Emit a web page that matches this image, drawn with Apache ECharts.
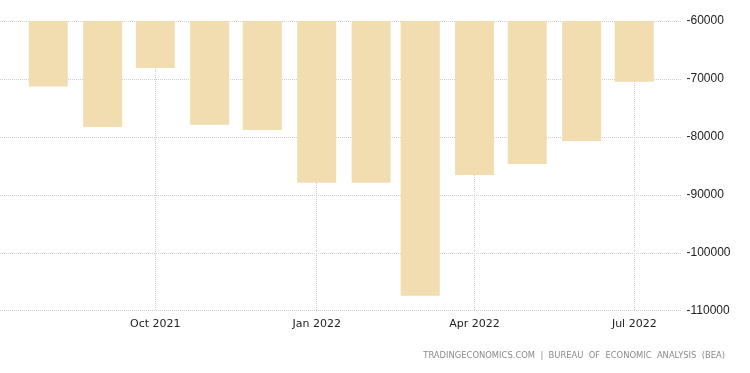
<!DOCTYPE html>
<html><head><meta charset="utf-8">
<script src="https://cdn.jsdelivr.net/npm/echarts@6/dist/echarts.min.js"></script>
<style>html,body{margin:0;padding:0;background:#fff}#c{width:750px;height:373px}</style>
</head><body><div id="c"></div>
<script>
const months = ['2021-08-01','2021-09-01','2021-10-01','2021-11-01','2021-12-01','2022-01-01','2022-02-01','2022-03-01','2022-04-01','2022-05-01','2022-06-01','2022-07-01'];
const values = [-71300, -78300, -68100, -77900, -78800, -87900, -87900, -107400, -86600, -84700, -80700, -70500];
const xTicks = ['2021-10-01','2022-01-01','2022-04-01','2022-07-01'];
const yMin = -110000, yMax = -60000, yStep = 10000;
const source = 'TRADINGECONOMICS.COM  |  BUREAU  OF  ECONOMIC  ANALYSIS  (BEA)';
const MON = ['Jan','Feb','Mar','Apr','May','Jun','Jul','Aug','Sep','Oct','Nov','Dec'];
const ts = s => { const [y,m,d] = s.split('-').map(Number); return Date.UTC(y, m-1, d); };
const tickTs = xTicks.map(ts);
const chart = echarts.init(document.getElementById('c'));
chart.setOption({
  animation: false,
  backgroundColor: '#fff',
  grid: {left: 0, right: 68.5, top: 21, bottom: 62.3, containLabel: false},
  xAxis: {
    type: 'value',
    scale: true,
    min: Date.UTC(2021, 6, 4, 12),
    max: Date.UTC(2022, 6, 27, 22),
    axisLine: {show: false},
    axisTick: {show: false, customValues: tickTs},
    splitLine: {show: true, lineStyle: {color: '#cfcfcf', type: [1, 1], width: 1}},
    axisLabel: {
      customValues: tickTs,
      margin: 8,
      color: '#222',
      fontSize: 11,
      fontFamily: 'DejaVu Sans',
      formatter: v => { const d = new Date(v); return MON[d.getUTCMonth()] + ' ' + d.getUTCFullYear(); }
    }
  },
  yAxis: {
    type: 'value',
    position: 'right',
    min: yMin, max: yMax, interval: yStep,
    axisLine: {show: false},
    axisTick: {show: false},
    splitLine: {show: true, lineStyle: {color: '#cfcfcf', type: [1, 1], width: 1}},
    axisLabel: {margin: 5, color: '#222', fontSize: 12, fontFamily: 'Liberation Sans, Arial', formatter: v => String(v)}
  },
  series: [{
    type: 'bar',
    data: months.map((m, i) => [ts(m), values[i]]),
    barWidth: 39,
    itemStyle: {color: '#F2DDB0'},
    clip: true
  }],
  graphic: [{
    type: 'text',
    right: 25, top: 352,
    style: {text: source, fill: '#8a8a8a', font: '8.4px "DejaVu Sans"'}
  }]
});
</script></body></html>
